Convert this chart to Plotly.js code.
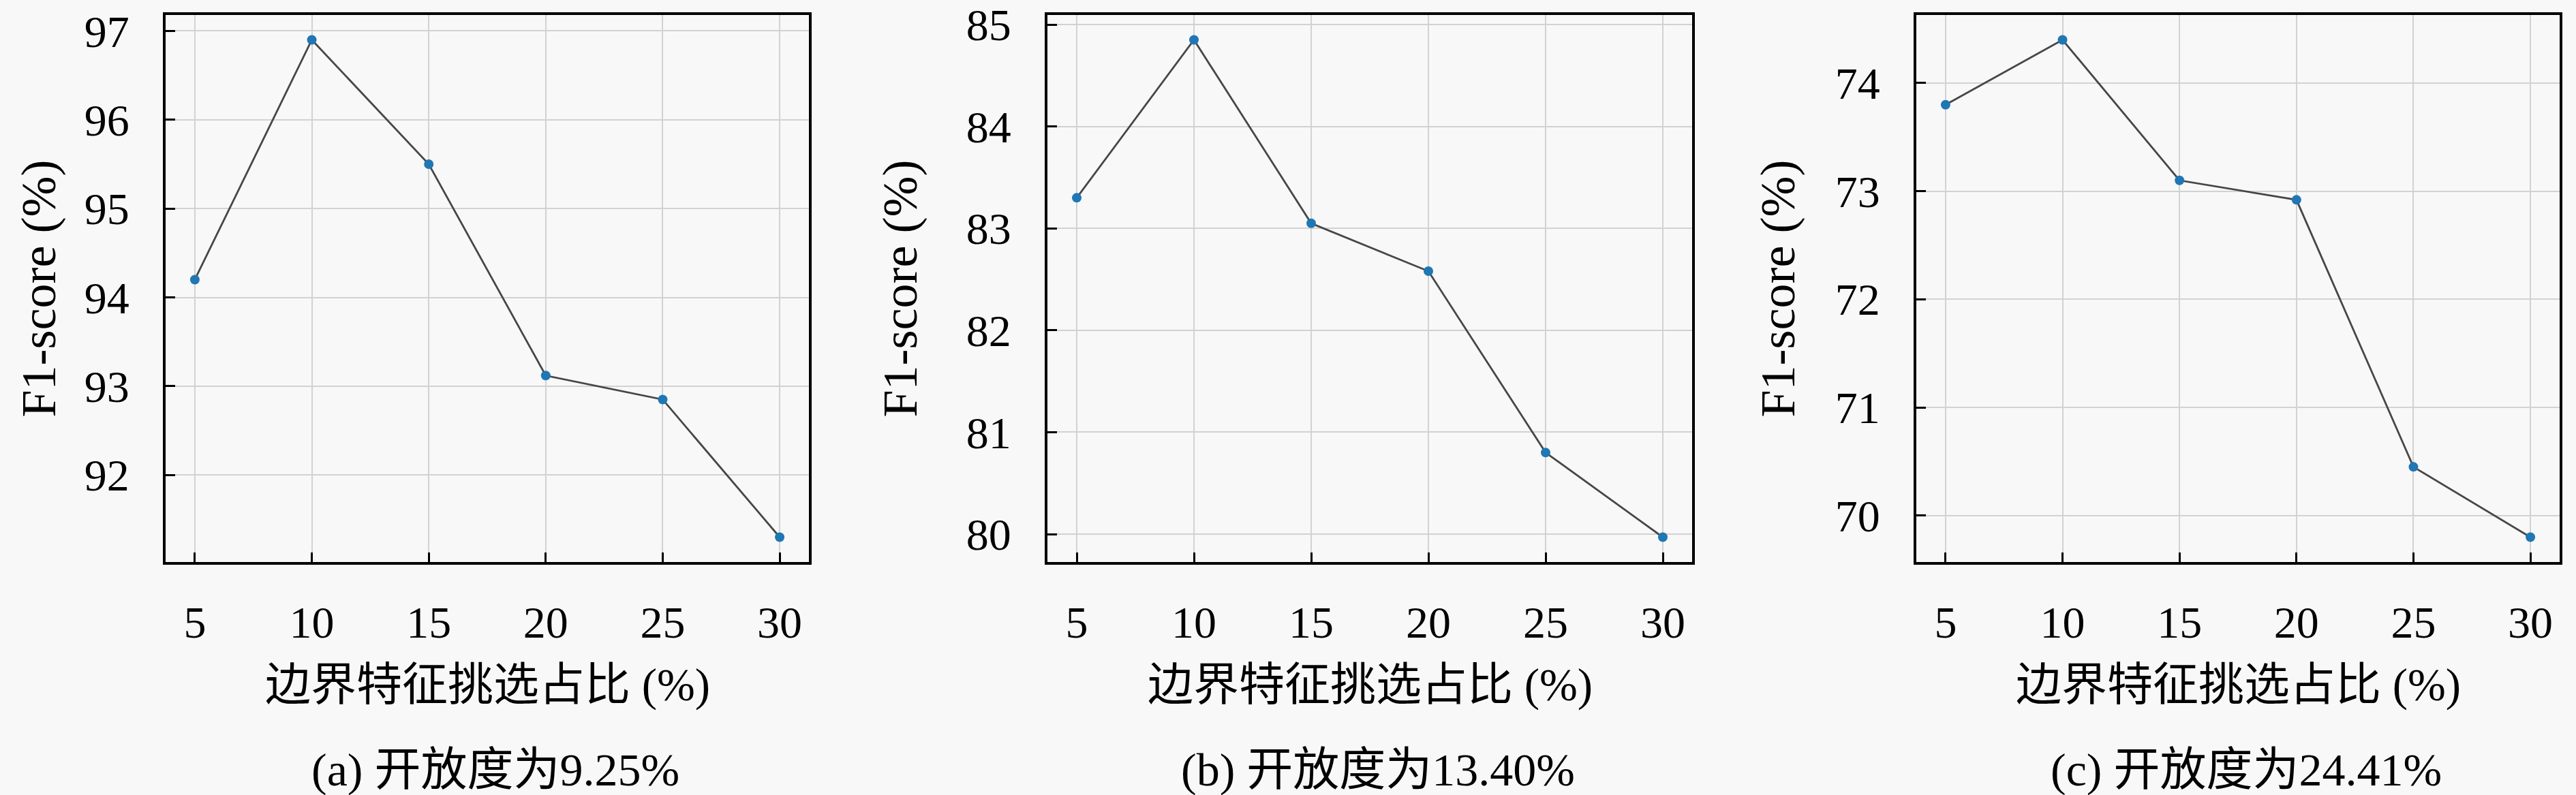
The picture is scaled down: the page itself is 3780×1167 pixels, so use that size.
<!DOCTYPE html>
<html>
<head>
<meta charset="utf-8">
<script src="https://cdn.plot.ly/plotly-3.0.1.min.js"></script>
<style>
  html, body { margin: 0; padding: 0; background: #f8f8f8; }
  #plot { width: 3780px; height: 1167px; }
</style>
</head>
<body>
<div id="plot"></div>
<script>
// selection ratio (%) on the x axis
var ratios = [5, 10, 15, 20, 25, 30];

// F1-score (%) for each openness level
var f1_a = [94.20, 96.90, 95.50, 93.12, 92.85, 91.30];
var f1_b = [83.30, 84.85, 83.05, 82.58, 80.80, 79.97];
var f1_c = [73.80, 74.40, 73.10, 72.92, 70.45, 69.80];

var captions = ["(a) 开放度为9.25%", "(b) 开放度为13.40%", "(c) 开放度为24.41%"];
var xLabel = "边界特征挑选占比 (%)";
var yLabel = "F1-score (%)";

var serif = "Liberation Serif, Noto Sans CJK SC, serif";
var W = 3780, H = 1167;

// matplotlib-like 5% padding
function pad(vals) {
    var lo = Math.min.apply(null, vals), hi = Math.max.apply(null, vals);
    var m = (hi - lo) * 0.05;
    return [lo - m, hi + m];
}

var series = [f1_a, f1_b, f1_c];
// panel boxes in pixels [left, right]
var boxes = [[243, 1187], [1537, 2483], [2812, 3756]];
var titleX = [56, 1320, 2608];
var boxTop = 22, boxBottom = 825;

var data = [];
var layout = {
    width: W,
    height: H,
    margin: {l: 0, r: 0, t: 0, b: 0},
    paper_bgcolor: "#f8f8f8",
    plot_bgcolor: "#f8f8f8",
    showlegend: false,
    font: {family: serif, size: 64, color: "#000"},
    annotations: []
};

series.forEach(function (ys, i) {
    var n = i === 0 ? "" : String(i + 1);
    data.push({
        x: ratios,
        y: ys,
        xaxis: "x" + n,
        yaxis: "y" + n,
        type: "scatter",
        mode: "lines+markers",
        line: {color: "#474747", width: 2.8},
        marker: {color: "#1f77b4", size: 14}
    });

    var common = {
        showline: true,
        mirror: true,
        linecolor: "#000",
        linewidth: 4,
        ticks: "inside",
        ticklen: 14,
        tickwidth: 3,
        tickcolor: "#000",
        showgrid: true,
        gridcolor: "#d2d2d2",
        gridwidth: 2,
        zeroline: false,
        tickfont: {family: serif, size: 66, color: "#000"}
    };

    layout["xaxis" + n] = Object.assign({}, common, {
        domain: [boxes[i][0] / W, boxes[i][1] / W],
        anchor: "y" + n,
        range: [3.75, 31.25],
        tickvals: ratios,
        ticklabelstandoff: 28
    });
    layout["yaxis" + n] = Object.assign({}, common, {
        domain: [(H - boxBottom) / H, (H - boxTop) / H],
        anchor: "x" + n,
        range: pad(ys),
        dtick: 1,
        ticklabelstandoff: 36
    });

    var cx = (boxes[i][0] + boxes[i][1]) / 2;
    layout.annotations.push({
        text: xLabel, xref: "paper", yref: "paper",
        x: cx / W, y: (H - 1005) / H,
        xanchor: "center", yanchor: "middle", showarrow: false,
        font: {family: serif, size: 67, color: "#000"}
    });
    layout.annotations.push({
        text: captions[i], xref: "paper", yref: "paper",
        x: (cx + 12) / W, y: (H - 1130) / H,
        xanchor: "center", yanchor: "middle", showarrow: false,
        font: {family: serif, size: 68, color: "#000"}
    });
    layout.annotations.push({
        text: yLabel, xref: "paper", yref: "paper",
        x: titleX[i] / W, y: (H - (boxTop + boxBottom) / 2) / H,
        xanchor: "center", yanchor: "middle", showarrow: false,
        textangle: -90,
        font: {family: serif, size: 72, color: "#000"}
    });
});

Plotly.newPlot("plot", data, layout, {displayModeBar: false, staticPlot: true});
</script>
</body>
</html>
